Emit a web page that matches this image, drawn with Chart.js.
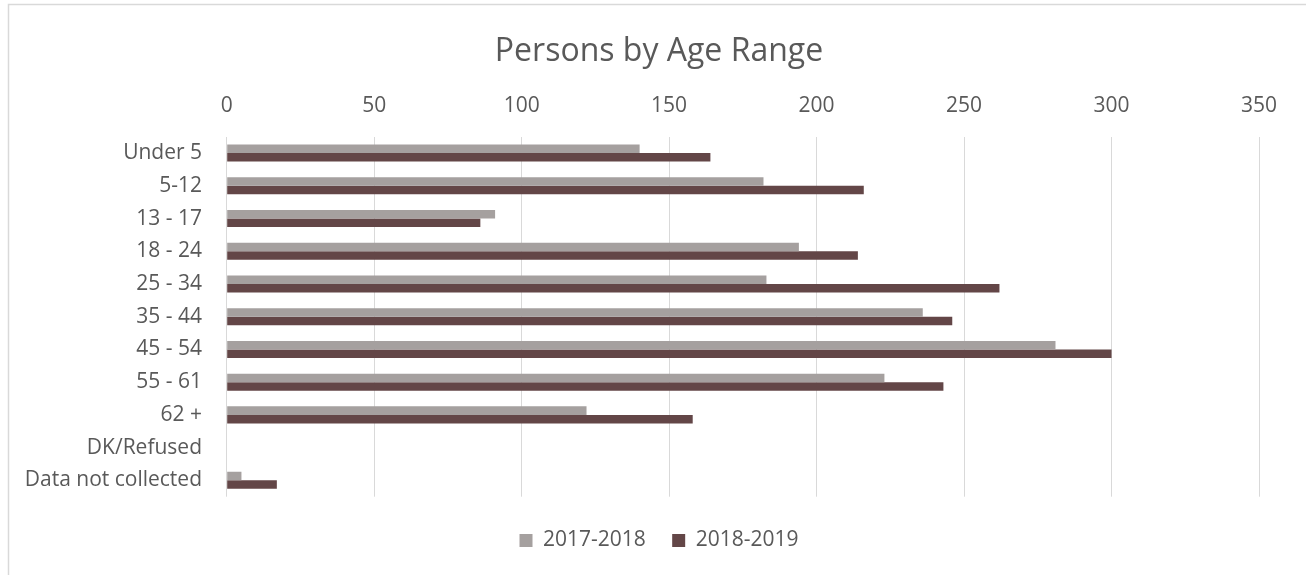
<!DOCTYPE html>
<html>
<head>
<meta charset="utf-8">
<script src="https://cdn.jsdelivr.net/npm/chart.js@4/dist/chart.umd.min.js"></script>
<style>
  body { margin: 0; background: #fff; }
</style>
</head>
<body>
<canvas id="grafico" width="1306" height="575"></canvas>
<script>
var categories = ["Under 5", "5-12", "13 - 17", "18 - 24", "25 - 34", "35 - 44", "45 - 54", "55 - 61", "62 +", "DK/Refused", "Data not collected"];
var seriesNames = ["2017-2018", "2018-2019"];
var values2017 = [140, 182, 91, 194, 183, 236, 281, 223, 122, 0, 5];
var values2018 = [164, 216, 86, 214, 262, 246, 300, 243, 158, 0, 17];
var xTicks = [0, 50, 100, 150, 200, 250, 300, 350];

var fontFamily = "'Open Sans', sans-serif";
var textColor = "#595959";

// thin frame like the office chart border
var framePlugin = {
    id: "frame",
    beforeDraw: function (chart) {
        var c = chart.ctx;
        c.save();
        c.fillStyle = "#fff";
        c.fillRect(0, 0, chart.width, chart.height);
        c.strokeStyle = "#d9d9d9";
        c.lineWidth = 1.5;
        c.strokeRect(8.5, 4.5, 1400, 700);
        c.restore();
    }
};

var data = {
    labels: categories,
    datasets: [{
        label: seriesNames[0],
        backgroundColor: "#a5a09f",
        borderWidth: 0,
        data: values2017
    }, {
        label: seriesNames[1],
        backgroundColor: "#634647",
        borderWidth: 0,
        data: values2018
    }]
};

var options = {
    indexAxis: "y",
    responsive: false,
    animation: false,
    devicePixelRatio: 1,
    categoryPercentage: 0.52,
    barPercentage: 1,
    layout: { padding: { left: 12, right: 0, top: 0, bottom: 14 } },
    scales: {
        x: {
            position: "top",
            min: xTicks[0],
            max: xTicks[xTicks.length - 1],
            afterBuildTicks: function (scale) {
                scale.ticks = xTicks.map(function (v) { return { value: v }; });
            },
            afterFit: function (scale) { scale.height = 65.5; },
            grid: { color: "#d9d9d9", lineWidth: 1, drawTicks: false },
            border: { display: false },
            ticks: { color: textColor, padding: 18, font: { family: fontFamily, size: 21 } }
        },
        y: {
            afterFit: function (scale) { scale.width = 214.7; },
            grid: { display: false, drawTicks: false },
            border: { display: false },
            ticks: { color: textColor, padding: 24.7, font: { family: fontFamily, size: 21 } }
        },
        yRight: {
            type: "linear",
            position: "right",
            display: true,
            afterFit: function (scale) { scale.width = 47; },
            grid: { display: false, drawTicks: false },
            border: { display: false },
            ticks: { display: false }
        }
    },
    plugins: {
        title: {
            display: true,
            text: "Persons by Age Range",
            color: textColor,
            font: { family: fontFamily, size: 32, weight: "normal" },
            padding: { top: 32.8, bottom: 0 }
        },
        legend: {
            position: "bottom",
            title: { display: true, text: " ", font: { size: 10 }, padding: { top: 11.3, bottom: 0 } },
            labels: {
                color: textColor,
                boxWidth: 13,
                boxHeight: 13,
                padding: 10,
                font: { family: fontFamily, size: 21 },
                generateLabels: function (chart) {
                    var items = Chart.defaults.plugins.legend.labels.generateLabels(chart);
                    items.forEach(function (it, i) {
                        if (i < items.length - 1) it.text = it.text + "   ";
                    });
                    return items;
                }
            }
        },
        tooltip: { enabled: false }
    }
};

var ctx = document.querySelector("#grafico").getContext("2d");
var barChart = new Chart(ctx, {
    type: "bar",
    data: data,
    options: options,
    plugins: [framePlugin]
});
</script>
</body>
</html>
